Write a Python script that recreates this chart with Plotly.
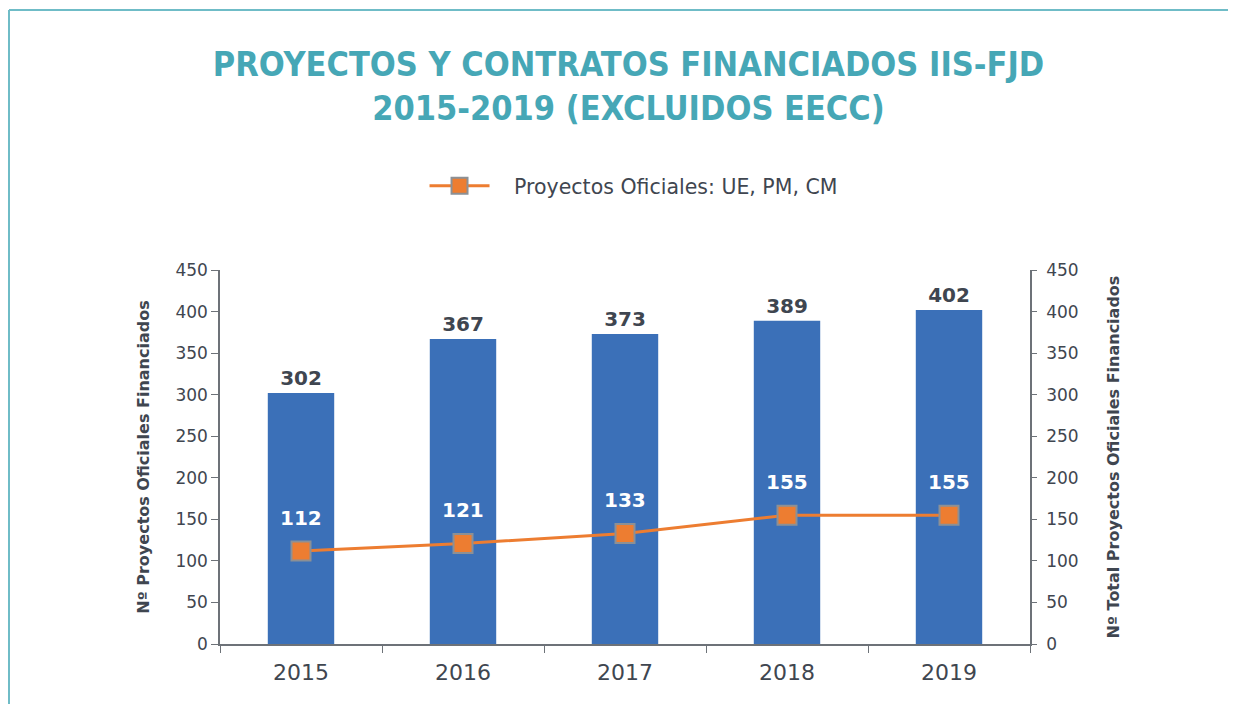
import plotly.graph_objects as go

years = ["2015", "2016", "2017", "2018", "2019"]
total_projects = [302, 367, 373, 389, 402]
official_projects = [112, 121, 133, 155, 155]
y_ticks = [0, 50, 100, 150, 200, 250, 300, 350, 400, 450]

title_lines = ["PROYECTOS Y CONTRATOS FINANCIADOS IIS-FJD", "2015-2019 (EXCLUIDOS EECC)"]
legend_name = "Proyectos Oficiales: UE, PM, CM"
left_title = "Nº Proyectos Oficiales Financiados"
right_title = "Nº Total Proyectos Oficiales Financiados"

TEAL = "#46a7b6"
TXT = "#3f4650"
AX = "#6d7278"
FONT = "DejaVu Sans"

fig = go.Figure()
fig.add_trace(go.Bar(
    x=years, y=total_projects, marker=dict(color="#3b70b8", line=dict(width=0)),
    text=[str(v) for v in total_projects], textposition="outside",
    textfont=dict(family=FONT, size=20, color=TXT), texttemplate="<b>%{text}</b>",
    cliponaxis=False, showlegend=False, yaxis="y"))
fig.add_trace(go.Scatter(
    x=years, y=official_projects, mode="lines+markers",
    name="\u00a0\u00a0\u00a0" + legend_name,
    line=dict(color="#ed7d31", width=3),
    marker=dict(symbol="square", size=19, color="#ed7d31", line=dict(color="#8c9095", width=2)),
    yaxis="y2"))

annotations = [
    dict(x=i, y=v, xref="x", yref="y2", text=f"<b>{v}</b>", showarrow=False,
         yanchor="bottom", yshift=19, font=dict(family=FONT, size=20, color="white"))
    for i, v in enumerate(official_projects)
]

fig.update_layout(
    width=1236, height=704,
    margin=dict(l=212, r=214, t=262, b=68),
    paper_bgcolor="white", plot_bgcolor="white",
    bargap=0.59,
    title=dict(text="<b>" + "<br>".join(title_lines) + "</b>", x=0.502, xanchor="center",
               y=0.904, yanchor="middle",
               font=dict(family="DejaVu Sans Condensed", size=34, color=TEAL)),
    legend=dict(orientation="h", x=0.2525, xanchor="left", y=1.2246, yanchor="middle",
                font=dict(family=FONT, size=20.5, color=TXT), itemwidth=60),
    xaxis=dict(type="category", range=[-0.5, len(years) - 0.5], showline=True, linecolor=AX,
               linewidth=1.5, ticks="outside", tickson="boundaries", ticklen=7, tickcolor=AX,
               ticklabelstandoff=8, tickangle=0,
               tickfont=dict(family=FONT, size=22, color=TXT), showgrid=False),
    yaxis=dict(range=[0, 450], tickvals=y_ticks, showline=True, linecolor=AX, linewidth=1.5,
               ticks="outside", ticklen=7, tickcolor=AX, showgrid=False, zeroline=False,
               tickfont=dict(family=FONT, size=17, color=TXT),
               title=dict(text="<b>" + left_title + "</b>", standoff=22,
                          font=dict(family=FONT, size=16, color=TXT))),
    yaxis2=dict(range=[0, 450], tickvals=y_ticks, overlaying="y", side="right",
                showline=True, linecolor=AX, linewidth=1.5, ticks="outside", ticklen=5,
                tickcolor=AX, showgrid=False, zeroline=False, ticklabelstandoff=6,
                tickfont=dict(family=FONT, size=17, color=TXT),
                title=dict(text="<b>" + right_title + "</b>", standoff=30,
                           font=dict(family=FONT, size=16, color=TXT))),
    annotations=annotations,
    shapes=[
        dict(type="line", xref="paper", yref="paper", x0=-0.2605, x1=1.3, y0=1.695, y1=1.695,
             line=dict(color="#6fbcc7", width=2)),
        dict(type="line", xref="paper", yref="paper", x0=-0.2605, x1=-0.2605, y0=1.695, y1=-0.3,
             line=dict(color="#6fbcc7", width=2)),
    ],
)

fig.write_html("out.html")
